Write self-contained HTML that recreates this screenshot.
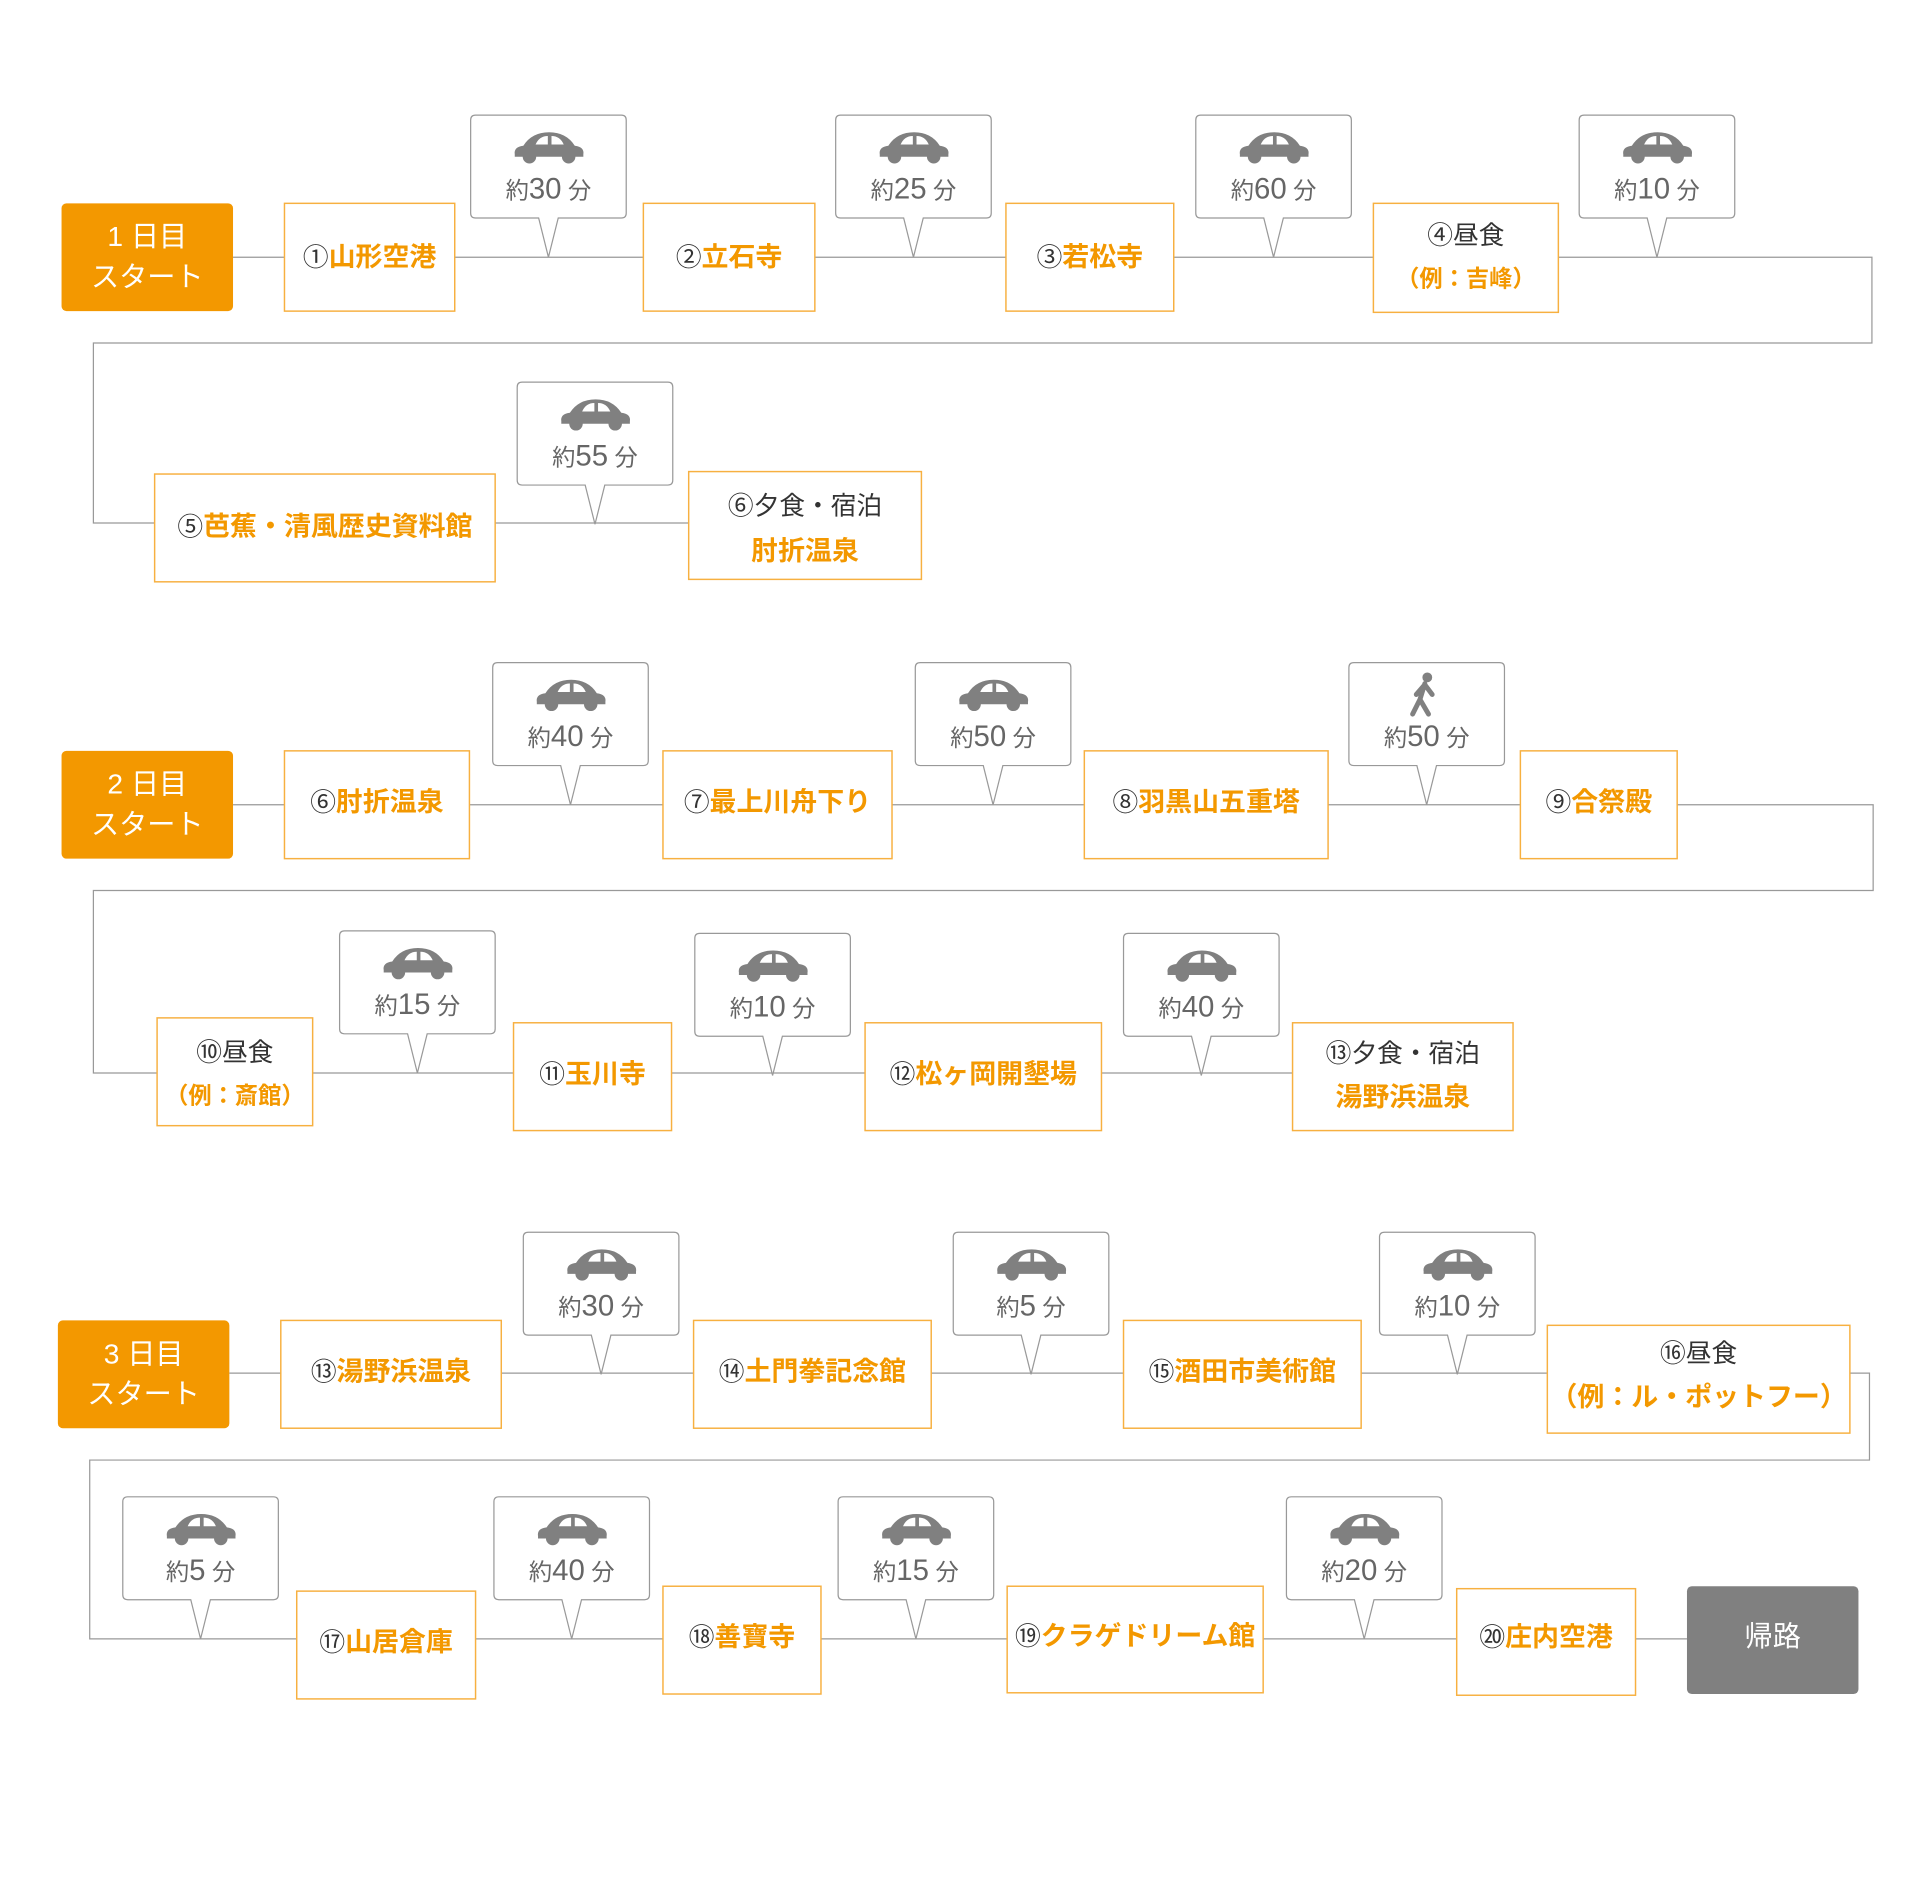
<!DOCTYPE html>
<html><head><meta charset="utf-8"><style>
html,body{margin:0;padding:0;background:#fff;}
svg{display:block;}
text{font-family:"Liberation Sans","Noto Sans CJK JP",sans-serif;}
.bx{fill:#fff;stroke:#f7b040;stroke-width:1.2;}
.ot{fill:#f39800;font-weight:bold;font-size:22px;}
.bk{fill:#333;font-weight:normal;font-size:21px;}
.t{font-size:19px;fill:#666;text-anchor:middle;}
.n{font-size:24px;}
.w{fill:#fff;font-size:23px;text-anchor:middle;}
</style></head><body>
<svg width="1920" height="1890" viewBox="0 0 1567 1543" xmlns="http://www.w3.org/2000/svg">
<defs>
<path id="bub" d="M4,0 H123 Q127,0 127,4 V80 Q127,84 123,84 H71.5 L63.5,116 L55.5,84 H4 Q0,84 0,80 V4 Q0,0 4,0Z" fill="#fff" stroke="#999" stroke-width="1"/>
<g id="car">
<path d="M2,20 Q1,14 9,13 Q16,2 30,2 Q44,2 51,13 Q59,14 58,20 L58,22 L2,22 Z" fill="#808080"/>
<circle cx="14" cy="22" r="5.5" fill="#808080"/><circle cx="46" cy="22" r="5.5" fill="#808080"/>
<path d="M19,12 Q22,5 29,5 L29,12 Z M32,5 Q39,5 42,12 L32,12 Z" fill="#fff"/>
</g>
<g id="walk" fill="#808080" stroke="#808080">
<circle cx="30" cy="6" r="4" stroke="none"/>
<path d="M28,11 L24,24 L18,36 M24,24 L31,36 M28,12 L34,20 M27,13 L21,20" stroke-width="4" fill="none" stroke-linecap="round"/>
</g>
</defs>
<g fill="none" stroke="#999" stroke-width="1">
<polyline points="190,210 1528,210 1528,280 76,280 76,427 752,427"/>
<polyline points="190,657 1529,657 1529,727 76,727 76,876 1055,876"/>
<polyline points="187,1121 1526,1121 1526,1192 73,1192 73,1338 1377,1338"/>
</g>

<g transform="translate(384,94)"><use href="#bub"/><use href="#car" x="34" y="12"/><text class="t" x="63.5" y="68">約<tspan class="n">30</tspan> 分</text></g>
<g transform="translate(682,94)"><use href="#bub"/><use href="#car" x="34" y="12"/><text class="t" x="63.5" y="68">約<tspan class="n">25</tspan> 分</text></g>
<g transform="translate(976,94)"><use href="#bub"/><use href="#car" x="34" y="12"/><text class="t" x="63.5" y="68">約<tspan class="n">60</tspan> 分</text></g>
<g transform="translate(1289,94)"><use href="#bub"/><use href="#car" x="34" y="12"/><text class="t" x="63.5" y="68">約<tspan class="n">10</tspan> 分</text></g>
<g transform="translate(422,312)"><use href="#bub"/><use href="#car" x="34" y="12"/><text class="t" x="63.5" y="68">約<tspan class="n">55</tspan> 分</text></g>
<g transform="translate(402,541)"><use href="#bub"/><use href="#car" x="34" y="12"/><text class="t" x="63.5" y="68">約<tspan class="n">40</tspan> 分</text></g>
<g transform="translate(747,541)"><use href="#bub"/><use href="#car" x="34" y="12"/><text class="t" x="63.5" y="68">約<tspan class="n">50</tspan> 分</text></g>
<g transform="translate(1101,541)"><use href="#bub"/><use href="#walk" x="34" y="6"/><text class="t" x="63.5" y="68">約<tspan class="n">50</tspan> 分</text></g>
<g transform="translate(277,760)"><use href="#bub"/><use href="#car" x="34" y="12"/><text class="t" x="63.5" y="68">約<tspan class="n">15</tspan> 分</text></g>
<g transform="translate(567,762)"><use href="#bub"/><use href="#car" x="34" y="12"/><text class="t" x="63.5" y="68">約<tspan class="n">10</tspan> 分</text></g>
<g transform="translate(917,762)"><use href="#bub"/><use href="#car" x="34" y="12"/><text class="t" x="63.5" y="68">約<tspan class="n">40</tspan> 分</text></g>
<g transform="translate(427,1006)"><use href="#bub"/><use href="#car" x="34" y="12"/><text class="t" x="63.5" y="68">約<tspan class="n">30</tspan> 分</text></g>
<g transform="translate(778,1006)"><use href="#bub"/><use href="#car" x="34" y="12"/><text class="t" x="63.5" y="68">約<tspan class="n">5</tspan> 分</text></g>
<g transform="translate(1126,1006)"><use href="#bub"/><use href="#car" x="34" y="12"/><text class="t" x="63.5" y="68">約<tspan class="n">10</tspan> 分</text></g>
<g transform="translate(100,1222)"><use href="#bub"/><use href="#car" x="34" y="12"/><text class="t" x="63.5" y="68">約<tspan class="n">5</tspan> 分</text></g>
<g transform="translate(403,1222)"><use href="#bub"/><use href="#car" x="34" y="12"/><text class="t" x="63.5" y="68">約<tspan class="n">40</tspan> 分</text></g>
<g transform="translate(684,1222)"><use href="#bub"/><use href="#car" x="34" y="12"/><text class="t" x="63.5" y="68">約<tspan class="n">15</tspan> 分</text></g>
<g transform="translate(1050,1222)"><use href="#bub"/><use href="#car" x="34" y="12"/><text class="t" x="63.5" y="68">約<tspan class="n">20</tspan> 分</text></g>

<rect x="50" y="166" width="140" height="88" rx="4" fill="#f39800"/>
<text class="w" x="120" y="201">1 日目</text><text class="w" x="120" y="234">スタート</text>
<rect x="50" y="613" width="140" height="88" rx="4" fill="#f39800"/>
<text class="w" x="120" y="648">2 日目</text><text class="w" x="120" y="681">スタート</text>
<rect x="47" y="1078" width="140" height="88" rx="4" fill="#f39800"/>
<text class="w" x="117" y="1113">3 日目</text><text class="w" x="117" y="1146">スタート</text>
<rect x="1377" y="1295" width="140" height="88" rx="4" fill="#808080"/>
<text class="w" x="1447" y="1344">帰路</text>

<g text-anchor="middle">
<rect class="bx" x="232" y="166" width="139" height="88"/>
<text x="301.5" y="217"><tspan class="bk">①</tspan><tspan class="ot">山形空港</tspan></text>
<rect class="bx" x="525" y="166" width="140" height="88"/>
<text x="595" y="217"><tspan class="bk">②</tspan><tspan class="ot">立石寺</tspan></text>
<rect class="bx" x="821" y="166" width="137" height="88"/>
<text x="889.5" y="217"><tspan class="bk">③</tspan><tspan class="ot">若松寺</tspan></text>
<rect class="bx" x="1121" y="166" width="151" height="89"/>
<text x="1196.5" y="199" class="bk">④昼食</text>
<text x="1196.5" y="234" class="ot" style="font-size:19px">（例：吉峰）</text>
<rect class="bx" x="126" y="387" width="278" height="88"/>
<text x="265" y="437"><tspan class="bk">⑤</tspan><tspan class="ot">芭蕉・清風歴史資料館</tspan></text>
<rect class="bx" x="562" y="385" width="190" height="88"/>
<text x="657" y="420" class="bk">⑥夕食・宿泊</text>
<text x="657" y="457" class="ot">肘折温泉</text>
<rect class="bx" x="232" y="613" width="151" height="88"/>
<text x="307.5" y="662"><tspan class="bk">⑥</tspan><tspan class="ot">肘折温泉</tspan></text>
<rect class="bx" x="541" y="613" width="187" height="88"/>
<text x="634.5" y="662"><tspan class="bk">⑦</tspan><tspan class="ot">最上川舟下り</tspan></text>
<rect class="bx" x="885" y="613" width="199" height="88"/>
<text x="984.5" y="662"><tspan class="bk">⑧</tspan><tspan class="ot">羽黒山五重塔</tspan></text>
<rect class="bx" x="1241" y="613" width="128" height="88"/>
<text x="1305" y="662"><tspan class="bk">⑨</tspan><tspan class="ot">合祭殿</tspan></text>
<rect class="bx" x="128" y="831" width="127" height="88"/>
<text x="191.5" y="866" class="bk">⑩昼食</text>
<text x="191.5" y="901" class="ot" style="font-size:19px">（例：斎館）</text>
<rect class="bx" x="419" y="835" width="129" height="88"/>
<text x="483.5" y="884"><tspan class="bk">⑪</tspan><tspan class="ot">玉川寺</tspan></text>
<rect class="bx" x="706" y="835" width="193" height="88"/>
<text x="802.5" y="884"><tspan class="bk">⑫</tspan><tspan class="ot">松ヶ岡開墾場</tspan></text>
<rect class="bx" x="1055" y="835" width="180" height="88"/>
<text x="1145" y="867" class="bk">⑬夕食・宿泊</text>
<text x="1145" y="903" class="ot">湯野浜温泉</text>
<rect class="bx" x="229" y="1078" width="180" height="88"/>
<text x="319" y="1127"><tspan class="bk">⑬</tspan><tspan class="ot">湯野浜温泉</tspan></text>
<rect class="bx" x="566" y="1078" width="194" height="88"/>
<text x="663" y="1127"><tspan class="bk">⑭</tspan><tspan class="ot">土門拳記念館</tspan></text>
<rect class="bx" x="917" y="1078" width="194" height="88"/>
<text x="1014" y="1127"><tspan class="bk">⑮</tspan><tspan class="ot">酒田市美術館</tspan></text>
<rect class="bx" x="1263" y="1082" width="247" height="88"/>
<text x="1386.5" y="1112" class="bk">⑯昼食</text>
<text x="1386.5" y="1148" class="ot">（例：ル・ポットフー）</text>
<rect class="bx" x="242" y="1299" width="146" height="88"/>
<text x="315" y="1348"><tspan class="bk">⑰</tspan><tspan class="ot">山居倉庫</tspan></text>
<rect class="bx" x="541" y="1295" width="129" height="88"/>
<text x="605.5" y="1344"><tspan class="bk">⑱</tspan><tspan class="ot">善寶寺</tspan></text>
<rect class="bx" x="822" y="1295" width="209" height="87"/>
<text x="926.5" y="1343"><tspan class="bk">⑲</tspan><tspan class="ot">クラゲドリーム館</tspan></text>
<rect class="bx" x="1189" y="1297" width="146" height="87"/>
<text x="1262" y="1344"><tspan class="bk">⑳</tspan><tspan class="ot">庄内空港</tspan></text>
</g>
</svg>
</body></html>
